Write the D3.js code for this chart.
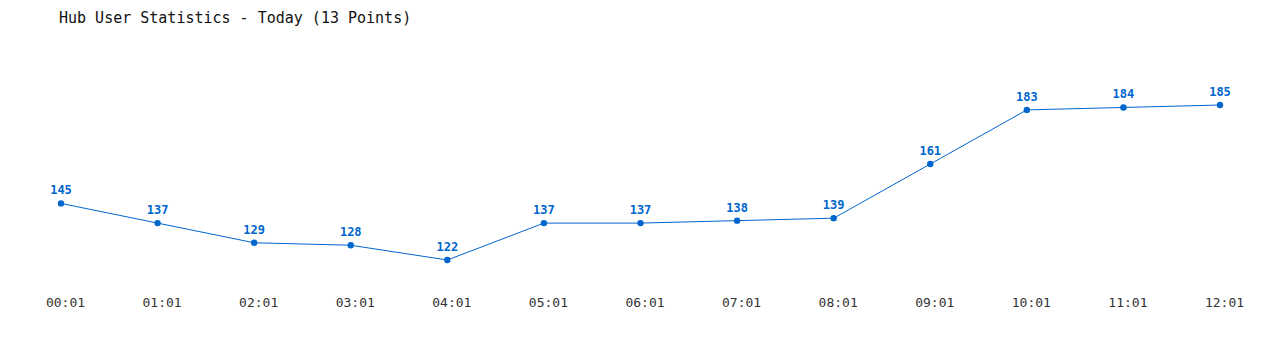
<!DOCTYPE html>
<html>
<head>
<meta charset="utf-8">
<script src="https://cdn.jsdelivr.net/npm/d3@7"></script>
<style>
  body { margin: 0; background: #fff; }
  svg text { font-family: "DejaVu Sans Mono", "Liberation Mono", monospace; }
</style>
</head>
<body>
<svg id="chart"></svg>
<script>
const times = ["00:01","01:01","02:01","03:01","04:01","05:01","06:01","07:01","08:01","09:01","10:01","11:01","12:01"];
const users = [145,137,129,128,122,137,137,138,139,161,183,184,185];

const width = 1280, height = 350;
const svg = d3.select("#chart").attr("width", width).attr("height", height);

// title
svg.append("text")
  .attr("x", 59).attr("y", 23)
  .attr("font-size", 15)
  .attr("fill", "#111")
  .text("Hub User Statistics - Today (13 Points)");

const x = d3.scalePoint().domain(times).range([61, 1220]);
const y = d3.scaleLinear().domain([122, 185]).range([260, 105]);

// x axis labels
const xAxis = d3.axisBottom(x).tickSize(0).tickPadding(0);
const gx = svg.append("g").attr("transform", "translate(4,298)").call(xAxis);
gx.select(".domain").remove();
gx.selectAll("text")
  .attr("font-size", 13)
  .attr("fill", "#333")
  .attr("font-family", "DejaVu Sans Mono, monospace");

const line = d3.line().x((d, i) => x(times[i])).y(d => y(d));
svg.append("path")
  .datum(users)
  .attr("d", line)
  .attr("fill", "none")
  .attr("stroke", "#0066cc")
  .attr("stroke-width", 1);

svg.selectAll(".dot")
  .data(users)
  .join("circle")
  .attr("class", "dot")
  .attr("cx", (d, i) => x(times[i]))
  .attr("cy", d => y(d))
  .attr("r", 3.2)
  .attr("fill", "#0066cc");

svg.selectAll(".val")
  .data(users)
  .join("text")
  .attr("class", "val")
  .attr("x", (d, i) => x(times[i]))
  .attr("y", d => y(d) - 9)
  .attr("text-anchor", "middle")
  .attr("font-size", 12)
  .attr("font-weight", "bold")
  .attr("fill", "#0066cc")
  .text(d => d);
</script>
</body>
</html>
